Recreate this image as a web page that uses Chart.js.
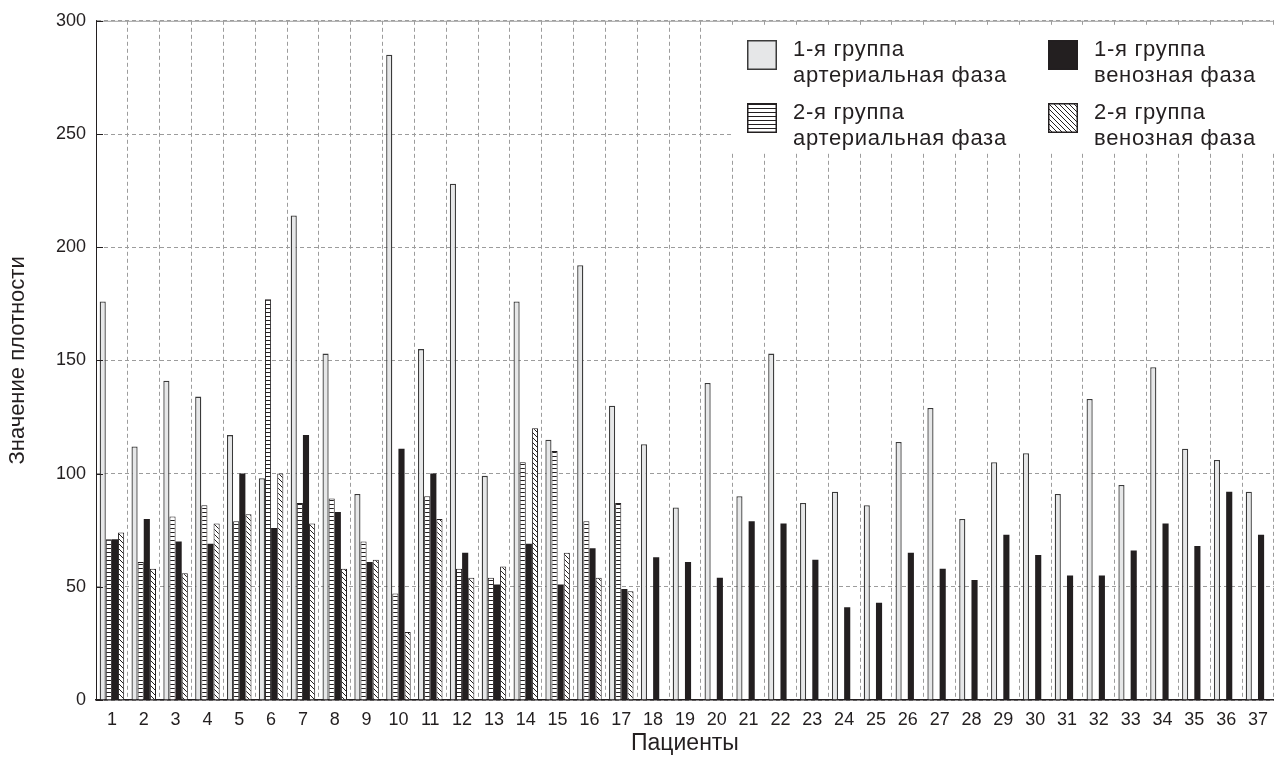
<!DOCTYPE html>
<html><head><meta charset="utf-8">
<script src="https://cdn.jsdelivr.net/npm/chart.js@4"></script>
<style>html,body{margin:0;padding:0;background:#fff;overflow:hidden}canvas{display:block}</style>
</head><body>
<canvas id="c" width="1277" height="757"></canvas>
<script>
// ---- data ----
const categories = ['1','2','3','4','5','6','7','8','9','10','11','12','13','14','15','16','17','18','19','20','21','22','23','24','25','26','27','28','29','30','31','32','33','34','35','36','37'];
const group1Arterial = [176,112,141,134,117,98,214,153,91,285,155,228,99,176,115,192,130,113,85,140,90,153,87,92,86,114,129,80,105,109,91,133,95,147,111,106,92];
const group2Arterial = [71,61,81,86,79,177,87,89,70,47,90,58,54,105,110,79,87,null,null,null,null,null,null,null,null,null,null,null,null,null,null,null,null,null,null,null,null];
const group1Venous = [71,80,70,69,100,76,117,83,61,111,100,65,51,69,51,67,49,63,61,54,79,78,62,41,43,65,58,53,73,64,55,55,66,78,68,92,73];
const group2Venous = [74,58,56,78,82,100,78,58,62,30,80,54,59,120,65,54,48,null,null,null,null,null,null,null,null,null,null,null,null,null,null,null,null,null,null,null,null];
const yTickValues = [0,50,100,150,200,250,300];
const seriesNames = [
  ['1-я группа','артериальная фаза'],
  ['2-я группа','артериальная фаза'],
  ['1-я группа','венозная фаза'],
  ['2-я группа','венозная фаза']
];
const xTitle = 'Пациенты';
const yTitle = 'Значение плотности';

// ---- styles ----
const FONT = '"Liberation Sans", Arial, Helvetica, sans-serif';
const INK = '#231f20';
const GRID = '#9c9c9c';

function makeH(){
  const c=document.createElement('canvas'); c.width=8; c.height=4;
  const x=c.getContext('2d'); x.fillStyle='#fff'; x.fillRect(0,0,8,4);
  x.fillStyle=INK; x.fillRect(0,0,8,1);
  return x.createPattern(c,'repeat');
}
function makeD(){
  const s=5; const c=document.createElement('canvas'); c.width=s; c.height=s;
  const x=c.getContext('2d'); x.fillStyle='#fff'; x.fillRect(0,0,s,s);
  x.strokeStyle=INK; x.lineWidth=1;
  x.beginPath();
  x.moveTo(-1,-1); x.lineTo(s+1,s+1);
  x.moveTo(-1,s-1); x.lineTo(1,s+1);
  x.moveTo(s-1,-1); x.lineTo(s+1,1);
  x.stroke();
  return x.createPattern(c,'repeat');
}
const fills = ['#e6e7e8', makeH(), INK, makeD()];
const borders = ['#3a3a3a', INK, INK, INK];

const framePlugin = {
  id:'frame',
  afterDatasetsDraw(chart){
    const {ctx, chartArea:{left,right,top,bottom}} = chart;
    ctx.save();
    // top border
    ctx.strokeStyle='#a0a0a0'; ctx.lineWidth=1;
    ctx.beginPath(); ctx.moveTo(left, top+0.5); ctx.lineTo(right, top+0.5); ctx.stroke();
    // inner y tick marks
    const ys = chart.scales.y;
    ctx.strokeStyle=INK; ctx.lineWidth=1;
    ys.ticks.forEach(t=>{
      const py = Math.round(ys.getPixelForValue(t.value))+0.5;
      ctx.beginPath(); ctx.moveTo(left, py); ctx.lineTo(left+7, py); ctx.stroke();
    });
    // legend box
    ctx.fillStyle='#fff';
    ctx.fillRect(731, 25, chart.width-731, 128);
    const pos = [[747,40],[747,103],[1048,40],[1048,103]];
    chart.data.datasets.forEach((ds,i)=>{
      const [x,y] = pos[i];
      ctx.fillStyle = ds.backgroundColor;
      ctx.fillRect(x,y,30,30);
      ctx.strokeStyle = i===0 ? '#3a3a3a' : INK; ctx.lineWidth=1.5;
      ctx.strokeRect(x+0.75,y+0.75,28.5,28.5);
      ctx.fillStyle = INK;
      ctx.font = '22px '+FONT;
      ctx.textBaseline='alphabetic'; ctx.textAlign='left';
      try { ctx.letterSpacing='0.7px'; } catch(e){}
      seriesNames[i].forEach((ln,k)=>{ ctx.fillText(ln, x+46, y+16+k*26); });
      try { ctx.letterSpacing='0px'; } catch(e){}
    });
    ctx.restore();
  }
};

new Chart(document.getElementById('c'), {
  type:'bar',
  data:{
    labels: categories,
    datasets:[
      {label: seriesNames[0].join(' '), data: group1Arterial, backgroundColor: fills[0], borderColor: borders[0], borderWidth: 1.3},
      {label: seriesNames[1].join(' '), data: group2Arterial, backgroundColor: fills[1], borderColor: borders[1], borderWidth: 1},
      {label: seriesNames[2].join(' '), data: group1Venous, backgroundColor: fills[2], borderColor: borders[2], borderWidth: 0},
      {label: seriesNames[3].join(' '), data: group2Venous, backgroundColor: fills[3], borderColor: borders[3], borderWidth: 1}
    ]
  },
  options:{
    responsive:false,
    animation:false,
    layout:{padding:{top:20,right:0,bottom:0,left:0}},
    datasets:{bar:{categoryPercentage:0.77, barPercentage:1.0}},
    plugins:{legend:{display:false}, tooltip:{enabled:false}},
    scales:{
      x:{
        grid:{color:GRID, lineWidth:1, drawTicks:false, offset:true},
        border:{display:true, color:INK, width:1.5, dash:[4,3]},
        ticks:{color:INK, font:{family:FONT, size:18}, padding:9, maxRotation:0, autoSkip:false},
        title:{display:true, text:xTitle, color:INK, font:{family:FONT, size:23}, padding:{top:0,bottom:0}},
        afterFit(s){ s.height = 57; }
      },
      y:{
        min:0, max:300,
        afterBuildTicks(s){ s.ticks = yTickValues.map(v=>({value:v})); },
        grid:{color:GRID, lineWidth:1, drawTicks:false},
        border:{display:true, color:INK, width:1, dash:[4,3]},
        ticks:{color:INK, font:{family:FONT, size:18}, padding:10},
        title:{display:true, text:yTitle, color:INK, font:{family:FONT, size:22}, padding:{top:5,bottom:0}},
        afterFit(s){ s.width = 96; }
      }
    }
  },
  plugins:[framePlugin]
});
</script>
</body></html>
